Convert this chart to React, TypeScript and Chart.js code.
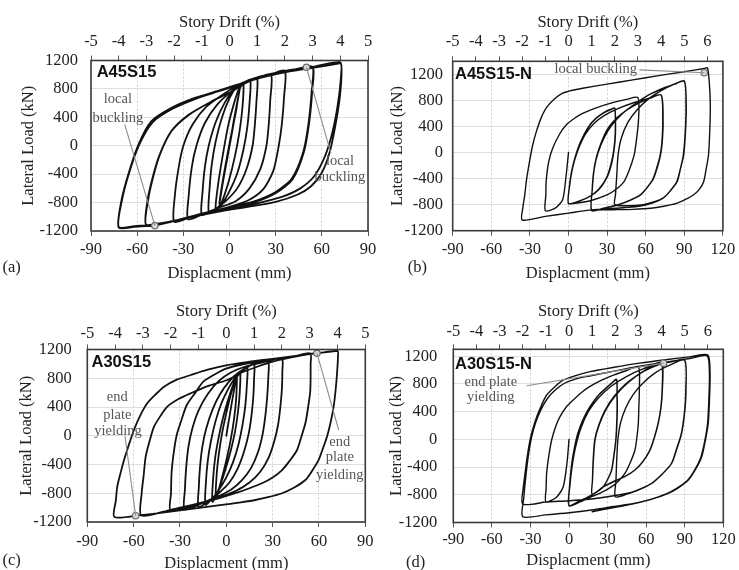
import React, { useEffect, useRef } from "react";
import { Chart, registerables } from "chart.js";

Chart.register(...registerables);

// ---------- axis tick values ----------
const DRIFT_TICKS_CYCLIC = [-5, -4, -3, -2, -1, 0, 1, 2, 3, 4, 5];
const DRIFT_TICKS_NEAR_FAULT = [-5, -4, -3, -2, -1, 0, 1, 2, 3, 4, 5, 6];
const DISP_TICKS_CYCLIC = [-90, -60, -30, 0, 30, 60, 90];
const DISP_TICKS_NEAR_FAULT = [-90, -60, -30, 0, 30, 60, 90, 120];
const LOAD_TICKS = [-1200, -800, -400, 0, 400, 800, 1200];
const MM_PER_DRIFT_PERCENT = 18;

// ---------- hysteresis data: [displacement mm, lateral load kN] ----------
const A45S15_PATH = [
  [0, 0], [3, 380], [6.6, 790],
  [4, 470], [0, -10], [-4, -480], [-6.6, -820],
  [-4.2, -470], [0, 30], [4.2, 480], [6.7, 800],
  [9, 880],
  [8.5, 560], [6.5, 200], [3.5, -150], [-0.5, -500], [-5, -790], [-9, -900],
  [-7.5, -560], [-4.5, -150], [-1, 270], [3, 600], [6.5, 820], [9, 880],
  [13.5, 925],
  [13, 600], [11.5, 250], [9, -60], [5, -390], [-1, -680], [-6, -850], [-9.5, -900], [-13.5, -935],
  [-13, -620], [-11.5, -260], [-9, 60], [-5, 390], [0, 670], [5, 840], [9, 890], [13.5, 925],
  [18, 955],
  [17.5, 620], [16.5, 300], [15, 0], [11, -330], [5, -600], [-3, -790], [-10, -900], [-18, -975],
  [-17.5, -650], [-16, -300], [-13.5, 0], [-9, 330], [-3, 610], [4, 820], [10, 900], [18, 955],
  [27, 1005],
  [26.5, 650], [25.5, 300], [24, 0], [20, -330], [13, -600], [4, -780], [-8, -880], [-18, -970], [-27, -1035],
  [-26.5, -700], [-24.5, -300], [-21.5, 0], [-16, 320], [-8, 580], [2, 780], [10, 900], [18, 960], [27, 1005],
  [36, 1055],
  [35.5, 700], [34, 300], [32, 0], [28.5, -350], [22, -610], [12, -770], [0, -860], [-15, -950], [-27, -1020], [-36, -1070],
  [-35.5, -700], [-33, -300], [-30, 0], [-24, 300], [-15, 550], [-3, 740], [8, 880], [20, 975], [36, 1055],
  [45, 1085], [54, 1112],
  [53.5, 800], [51.5, 340], [48, -80], [40.5, -460], [30, -650], [15, -790], [0, -865], [-20, -965], [-38, -1070], [-54, -1125],
  [-53.5, -800], [-50, -450], [-45.5, -130], [-38, 200], [-27, 430], [-12, 620], [1, 760], [10, 890], [25, 990], [40, 1060], [54, 1110],
  [53.8, 790], [51.8, 330], [48.3, -90], [41, -470], [30.5, -660], [15.5, -800], [0, -870], [-20, -968], [-38, -1068], [-54, -1118],
  [-53, -780], [-49.5, -430], [-45, -110], [-37.5, 210], [-26, 440], [-11, 630], [2, 770], [12, 900], [26, 995], [40, 1058], [54, 1108],
  [63, 1140], [72, 1175],
  [72.8, 1000], [71.5, 650], [68.5, 250], [65, -100], [60, -380], [53, -570], [44, -690], [30, -790], [12, -860], [-5, -920], [-20, -985], [-36, -1060], [-50, -1120], [-62, -1142], [-72, -1152],
  [-70.5, -800], [-66, -420], [-59.5, 0], [-51, 340], [-38, 530], [-23, 670], [-8, 770], [5, 860], [20, 970], [40, 1065], [55, 1115], [72, 1175],
  [72.5, 1000], [70.5, 600], [67, 200], [62, -150], [55, -430], [46, -600], [34, -720], [18, -810], [0, -885], [-20, -980], [-36, -1055], [-50, -1110], [-62, -1132], [-72, -1142],
  [-70, -780], [-65.5, -400], [-59, 0], [-50, 330], [-37, 520], [-22, 660], [-8, 760], [5, 850], [20, 955], [40, 1050], [55, 1100], [71.5, 1160],
];
const A45S15_MARKERS = [[-48.5, -1125], [50, 1105]];

const A45S15N_PATH = [
  [0, 0], [-2, -380], [-4.5, -720], [-10, -850], [-18, -893],
  [-17.6, -650], [-17.4, -450], [-15.5, -150], [-12.3, 65], [-7, 280], [-2, 420], [5, 530], [11, 600], [22, 690], [35, 770], [45, 815], [54, 841],
  [54.3, 470], [52.5, 150], [51, -40], [47, -280], [43, -450], [36, -580], [30, -650], [17, -740], [8, -770], [0, -780],
  [0.5, -560], [2, -330], [5, -80], [9, 150], [15, 380], [21, 520], [28, 620], [33, 665], [36, 680],
  [36.5, 300], [35.5, 50], [33.5, -170], [30, -380], [24, -560], [17, -670], [9, -740], [0, -780],
  [0.6, -540], [2.2, -310], [5.5, -60], [9.5, 170], [15.5, 390], [21.5, 525], [28, 615], [33, 660], [36, 675],
  [36.3, 290], [35.2, 40], [33, -180], [29.5, -390], [23.5, -565], [16.5, -675], [8.5, -745], [0, -785],
  [0.8, -520], [3, -250], [7, 20], [13, 280], [20, 450], [28, 570], [38, 670], [50, 760], [62, 830], [72, 883],
  [73.5, 473], [72.8, 150], [71.5, -38], [69, -230], [66, -400], [61, -540], [56, -650], [47, -740], [38, -806], [28, -850], [18, -893],
  [18.3, -600], [19.5, -300], [22, -50], [26, 180], [31, 380], [38, 540], [46, 660], [55, 760], [63, 830], [72, 880],
  [73.2, 470], [72.5, 140], [71.2, -45], [68.5, -240], [65.5, -410], [60.5, -550], [55.5, -655], [46.5, -745], [37.5, -810], [27.5, -855], [18, -890],
  [18.5, -560], [20, -250], [23, 0], [28, 240], [34, 430], [42, 600], [52, 750], [62, 880], [74, 990], [82, 1045], [90, 1098],
  [91.5, 729], [91, 350], [89.5, -38], [87, -250], [84.4, -448], [79, -590], [74, -690], [66, -760], [58, -800], [48, -815], [36, -800],
  [36.5, -650], [37.5, -350], [38.5, -40], [41, 220], [46, 460], [53, 650], [62, 820], [72, 950], [81, 1040], [90, 1090],
  [91.3, 720], [90.8, 340], [89.2, -45], [86.8, -260], [84, -455], [78.5, -600], [73.5, -700], [65, -775], [56, -820], [44, -845], [30, -865], [16, -885], [0, -930], [-18, -980], [-36, -1036],
  [-35.5, -850], [-34, -650], [-32.5, -400], [-30.3, -140], [-28, 100], [-25, 320], [-21.5, 520], [-17.4, 680], [-11, 820], [-4.5, 910], [3, 955], [11, 986], [30, 1050], [50, 1115], [70, 1180], [90, 1240], [105.5, 1290], [108, 1300],
  [109.5, 1050], [110.2, 729], [109.8, 350], [108.8, -38], [107, -250], [105, -448], [101.5, -570], [97, -652], [91, -720], [84, -780], [74, -825], [64, -856], [50, -872], [35, -878], [20, -882],
];
const A45S15N_MARKERS = [[105.5, 1225]];

const A30S15_PATH = [
  [0, 0], [3.5, 450], [6.75, 820],
  [6.4, 520], [5, 230], [2.8, -60], [-0.2, -360], [-3.5, -640], [-6.75, -880],
  [-6.3, -560], [-4.8, -250], [-2.5, 60], [0.5, 360], [3.5, 620], [6.75, 820],
  [9, 880],
  [8.7, 600], [7.5, 320], [5.5, 40], [2.5, -240], [-1, -500], [-4.5, -720], [-9, -920],
  [-8.6, -620], [-7.3, -320], [-5, -30], [-2, 260], [1.5, 520], [5, 740], [9, 880],
  [13.5, 950],
  [13.3, 700], [12.3, 420], [10.5, 150], [8, -110], [4.5, -360], [0, -580], [-5, -760], [-9, -870], [-13.5, -960],
  [-13.2, -650], [-12, -350], [-10, -80], [-7, 200], [-3, 460], [2, 680], [7, 840], [13.5, 950],
  [18, 1000],
  [18, 800], [17.5, 550], [16.3, 280], [14.5, 30], [11.5, -220], [7.5, -450], [2, -650], [-5, -800], [-11, -900], [-18, -990],
  [-17.8, -720], [-17, -430], [-15.5, -150], [-13, 100], [-9, 360], [-4, 580], [2, 760], [8, 880], [18, 1000],
  [27, 1040],
  [27.2, 820], [26.5, 550], [25.3, 280], [23.5, 20], [20.5, -230], [16, -450], [10, -620], [3, -750], [-6, -850], [-15, -930], [-27, -1030],
  [-26.8, -750], [-26, -450], [-24.5, -150], [-22, 100], [-18, 350], [-12, 580], [-5, 760], [3, 880], [12, 960], [27, 1040],
  [36, 1080],
  [36.3, 900], [36, 650], [35, 400], [33.5, 150], [31, -80], [27.5, -300], [22, -500], [15, -650], [6, -770], [-5, -860], [-18, -950], [-36, -1040],
  [-35.8, -800], [-35.4, -500], [-34, -230], [-32.1, 11], [-29, 220], [-25.6, 428], [-20, 600], [-14.9, 752], [-7, 860], [0.3, 938], [10, 990], [22, 1040], [36, 1080],
  [45, 1112], [54.4, 1145],
  [54.6, 1000], [54.4, 637], [53, 400], [51.2, 173], [48.5, -20], [45.8, -198], [41, -350], [36.1, -477], [30, -580], [23.1, -661], [15, -730], [5.8, -800], [-5, -870], [-20, -950], [-36, -1030], [-55, -1110],
  [-54.8, -800], [-53.5, -550], [-52.2, -291], [-49.5, -60], [-46.8, 126], [-42.5, 280], [-38.2, 404], [-31, 510], [-23, 591], [-12, 690], [0.6, 776], [10, 880], [20, 960], [30, 1030], [42, 1090], [54.4, 1140],
  [63, 1160], [72, 1180],
  [72.3, 1100], [71.7, 869], [70.8, 640], [69.5, 404], [67.5, 180], [65.2, -13], [62.5, -180], [59.8, -337], [55.5, -490], [51.2, -616], [44, -720], [36.1, -800], [27, -855], [18.8, -894], [8, -930], [-2.8, -963], [-20, -1010], [-40, -1065], [-56, -1105], [-72.5, -1130],
  [-71.5, -900], [-70.6, -709], [-68.5, -520], [-66.2, -337], [-63, -120], [-59.8, 80], [-56, 270], [-51.2, 451], [-46, 570], [-40.3, 683], [-32, 780], [-23, 845], [-12, 920], [0.6, 984], [15, 1030], [30, 1070], [45, 1110], [58, 1145], [72, 1180],
];
const A30S15_MARKERS = [[-58.7, -1112], [58.7, 1147]];

const A30S15N_PATH = [
  [0, 0], [-1.5, -330], [-4.5, -683], [-10, -840], [-18, -900],
  [-17.8, -700], [-17.4, -490], [-15.8, -250], [-13.5, -9], [-10.5, 180], [-7, 327], [-2, 470], [3.3, 568], [10, 680], [16, 760], [25, 850], [35, 930], [45, 995], [54, 1049],
  [54.7, 713], [54.3, 450], [53.9, 232], [52.8, 30], [51.3, -153], [47.5, -340], [43.5, -490], [38.5, -600], [33.2, -683], [25, -770], [17.6, -828], [9, -900], [0, -960],
  [0.3, -700], [1.3, -490], [2.5, -300], [3.9, -153], [6, 30], [8.6, 183], [12, 330], [16.3, 471], [22, 620], [28, 730], [33, 810], [37, 867],
  [37.4, 650], [37.6, 472], [37.2, 200], [36.5, -9], [35, -230], [33.2, -442], [30, -580], [26.7, -683], [22, -750], [17.6, -803], [9, -880], [0, -955],
  [0.4, -690], [1.5, -470], [2.8, -280], [4.2, -130], [6.3, 50], [9, 200], [12.5, 345], [16.8, 485], [22.5, 630], [28.5, 735], [33.3, 812], [37, 862],
  [37.3, 640], [37.4, 460], [37, 190], [36.3, -20], [34.8, -240], [33, -450], [29.7, -590], [26.4, -690], [21.7, -757], [17.3, -808], [8.7, -885], [0, -958],
  [0.8, -650], [2.5, -380], [5, -120], [9, 150], [15, 400], [23, 600], [33, 770], [45, 910], [58, 1020], [72, 1107],
  [72.6, 713], [71.5, 450], [69.4, 232], [66.5, 30], [63, -155], [57.5, -320], [51.3, -442], [44, -530], [37.1, -587], [27, -680], [18, -790],
  [18.2, -600], [18.8, -300], [20, -9], [23, 200], [28, 420], [35, 620], [44, 800], [55, 950], [64, 1050], [72, 1105],
  [72.4, 700], [71.3, 440], [69.2, 225], [66.3, 25], [62.7, -160], [57.2, -325], [51, -447], [43.7, -535], [36.8, -592], [26.7, -685], [18, -795],
  [18.3, -580], [19, -290], [20.3, 0], [23.5, 210], [28.7, 430], [36, 630], [46, 820], [58, 980], [70, 1080], [80, 1120], [90, 1146],
  [91, 713], [90, 400], [87.6, 88], [84, -130], [79.9, -345], [72.5, -500], [64.3, -634], [55, -720], [45, -790], [36, -830],
  [36.5, -600], [37.1, -300], [38, -9], [40, 232], [44, 450], [50, 650], [58, 820], [67, 960], [77, 1060], [90, 1140],
  [90.8, 700], [89.8, 390], [87.3, 80], [83.6, -140], [79.5, -355], [72, -510], [64, -640], [52, -745], [38.3, -803], [17.6, -860], [0, -885], [-18, -905], [-36, -935],
  [-35.6, -700], [-34.2, -490], [-32.5, -250], [-30.3, -9], [-28, 160], [-25.1, 327], [-21.5, 490], [-17.4, 640], [-11, 760], [-4.4, 857], [5, 920], [16.3, 977], [35, 1040], [55, 1100], [75, 1150], [95, 1195], [108, 1218],
  [109.7, 954], [109.3, 600], [108.3, 232], [106, -20], [103.2, -250], [98.5, -430], [92.8, -587], [85, -700], [77.2, -779], [65, -860], [51.3, -923], [35, -970], [17.6, -1020], [0, -1060], [-18, -1090], [-36, -1116],
  [-35.2, -850], [-33.5, -520], [-31.5, -220], [-29, 40], [-25.8, 250], [-21.8, 430], [-16.8, 590], [-10.5, 715], [-3.5, 810], [5, 870], [16, 915], [35, 985], [55, 1055], [75, 1115], [95, 1170], [107.5, 1205],
  [109.2, 950], [108.8, 600], [107.8, 232], [105.5, -30], [102.5, -260], [97.8, -440], [92, -595], [84, -705], [76, -785], [64, -865], [50, -930], [35, -985], [18, -1044],
];
const A30S15N_MARKERS = [[73.5, 1100]];

// ---------- presentation ----------
const SERIF = "'Liberation Serif', 'Times New Roman', Times, serif";
const SANS = "'Liberation Sans', Arial, Helvetica, sans-serif";
const FS = 16.5;

type Note = { t: string; x: number; y: number };
type Panel = any;

const PANELS: Panel[] = [
  {
    key: "a", name: "A45S15", path: A45S15_PATH, markers: A45S15_MARKERS,
    xMin: -90, xMax: 90, yMin: -1200, yMax: 1200, xTicks: DISP_TICKS_CYCLIC, driftTicks: DRIFT_TICKS_CYCLIC,
    canvas: { left: 0, top: 0, width: 390, height: 285 }, plot: { left: 91, top: 60.5, right: 368, bottom: 231 },
    yTitlePad: 18.4, topTitlePad: 12.4, bottomTitlePad: 1.1, topTickPad: 3.9, bottomTickPad: 3.4, yTickPad: 13,
    lw: 1.8, nameDx: 5.7, nameDy: 12.2, letter: [11.7, 266.7],
    notes: [
      { t: "local", x: -72.5, y: 650 }, { t: "buckling", x: -72.5, y: 386 },
      { t: "local", x: 71.8, y: -224 }, { t: "buckling", x: 71.8, y: -436 },
    ],
    leaders: [[-68.1, 300, -48.5, -1125], [65.9, -106, 50, 1105]],
  },
  {
    key: "b", name: "A45S15-N", path: A45S15N_PATH, markers: A45S15N_MARKERS,
    xMin: -90, xMax: 120, yMin: -1200, yMax: 1400, xTicks: DISP_TICKS_NEAR_FAULT, driftTicks: DRIFT_TICKS_NEAR_FAULT,
    canvas: { left: 375, top: 0, width: 364, height: 285 }, plot: { left: 452.7, top: 61.3, right: 725, bottom: 230.7 },
    yTitlePad: 12.4, topTitlePad: 12.4, bottomTitlePad: 1.1, topTickPad: 4.7, bottomTickPad: 3.7, yTickPad: 9.7,
    lw: 1.4, nameDx: 2.3, nameDy: 12.7, letter: [417.3, 266.7],
    notes: [{ t: "local buckling", x: 21.1, y: 1277 }],
    leaders: [[55.1, 1268, 105.5, 1225]],
  },
  {
    key: "c", name: "A30S15", path: A30S15_PATH, markers: A30S15_MARKERS,
    xMin: -90, xMax: 90, yMin: -1200, yMax: 1200, xTicks: DISP_TICKS_CYCLIC, driftTicks: DRIFT_TICKS_CYCLIC,
    canvas: { left: 0, top: 285, width: 390, height: 285 }, plot: { left: 87.3, top: 349.5, right: 365.3, bottom: 522 },
    yTitlePad: 16.8, topTitlePad: 16.8, bottomTitlePad: -3.2, topTickPad: 1.3, bottomTickPad: 4.8, yTickPad: 15.6,
    lw: 1.8, nameDx: 4.2, nameDy: 12.8, letter: [11.7, 560],
    notes: [
      { t: "end", x: -70.6, y: 543 }, { t: "plate", x: -70.6, y: 289 }, { t: "yielding", x: -70.1, y: 70 },
      { t: "end", x: 73.5, y: -83 }, { t: "plate", x: 73.5, y: -300 }, { t: "yielding", x: 73.5, y: -546 },
    ],
    leaders: [[-65.6, -4, -58.7, -1112], [72.8, 80, 58.7, 1147]],
  },
  {
    key: "d", name: "A30S15-N", path: A30S15N_PATH, markers: A30S15N_MARKERS,
    xMin: -90, xMax: 120, yMin: -1200, yMax: 1300, xTicks: DISP_TICKS_NEAR_FAULT, driftTicks: DRIFT_TICKS_NEAR_FAULT,
    canvas: { left: 375, top: 285, width: 364, height: 285 }, plot: { left: 453.3, top: 349.3, right: 723.3, bottom: 522.5 },
    yTitlePad: 11.4, topTitlePad: 16.8, bottomTitlePad: -0.9, topTickPad: 2.7, bottomTickPad: 2.6, yTickPad: 16,
    lw: 1.4, nameDx: 1.7, nameDy: 14.7, letter: [415.7, 561.7],
    notes: [{ t: "end plate", x: -60.8, y: 832 }, { t: "yielding", x: -60.8, y: 616 }],
    leaders: [[-32.9, 775, 73.5, 1100]],
  },
];

function buildConfig(p: Panel): any {
  const c = p.canvas;
  const yAxisW = p.plot.left - c.left;
  const topH = p.plot.top - c.top;
  const bottomH = c.top + c.height - p.plot.bottom;
  const padRight = c.left + c.width - p.plot.right;
  const font = { family: SERIF, size: FS };

  const decor = {
    id: "decor_" + p.key,
    afterDatasetsDraw(chart: any) {
      const { ctx, chartArea: a, scales } = chart;
      const xs = scales.x;
      const ys = scales.y;
      ctx.save();
      ctx.strokeStyle = "#8c8c8c";
      ctx.lineWidth = 1.1;
      for (const l of p.leaders) {
        ctx.beginPath();
        ctx.moveTo(xs.getPixelForValue(l[0]), ys.getPixelForValue(l[1]));
        ctx.lineTo(xs.getPixelForValue(l[2]), ys.getPixelForValue(l[3]));
        ctx.stroke();
      }
      ctx.fillStyle = "#555";
      ctx.font = `14.5px ${SERIF}`;
      ctx.textAlign = "center";
      ctx.textBaseline = "middle";
      for (const n of p.notes as Note[]) {
        ctx.fillText(n.t, xs.getPixelForValue(n.x), ys.getPixelForValue(n.y));
      }
      ctx.fillStyle = "#111";
      ctx.font = `bold ${FS}px ${SANS}`;
      ctx.textAlign = "left";
      ctx.fillText(p.name, a.left + p.nameDx, a.top + p.nameDy);
      ctx.strokeStyle = "#3a3a3a";
      ctx.lineWidth = 1.6;
      ctx.strokeRect(a.left, a.top, a.right - a.left, a.bottom - a.top);
      ctx.restore();
    },
  };

  return {
    type: "line",
    data: {
      datasets: [
        {
          data: p.markers.map(([x, y]: number[]) => ({ x, y })),
          showLine: false,
          pointRadius: 3.2,
          pointBackgroundColor: "#d8d8d8",
          pointBorderColor: "#6a6a6a",
          pointBorderWidth: 1.2,
          order: 0,
        },
        {
          data: p.path.map(([x, y]: number[]) => ({ x, y })),
          borderColor: "#111",
          borderWidth: p.lw,
          pointRadius: 0,
          tension: 0.25,
          fill: false,
          borderJoinStyle: "round",
          borderCapStyle: "round",
          order: 1,
        },
      ],
    },
    options: {
      animation: false,
      responsive: false,
      maintainAspectRatio: false,
      events: [],
      layout: { padding: { left: 0, top: 0, right: padRight, bottom: 0 } },
      plugins: { legend: { display: false }, tooltip: { enabled: false }, title: { display: false } },
      scales: {
        x: {
          type: "linear", position: "bottom", min: p.xMin, max: p.xMax,
          afterBuildTicks: (s: any) => { s.ticks = p.xTicks.map((v: number) => ({ value: v })); },
          afterFit: (s: any) => { s.height = bottomH; },
          ticks: { color: "#222", font, padding: p.bottomTickPad, maxRotation: 0, autoSkip: false, callback: (v: any) => String(v) },
          grid: { color: "#cfcfcf", lineWidth: 1, drawTicks: true, tickLength: 5, tickColor: "#555", tickWidth: 1 },
          border: { display: false, dash: [2, 2] },
          title: { display: true, text: "Displacment (mm)", color: "#222", font, padding: { top: 0, bottom: p.bottomTitlePad } },
        },
        x2: {
          type: "linear", position: "top",
          min: p.xMin / MM_PER_DRIFT_PERCENT, max: p.xMax / MM_PER_DRIFT_PERCENT,
          afterBuildTicks: (s: any) => { s.ticks = p.driftTicks.map((v: number) => ({ value: v })); },
          afterFit: (s: any) => { s.height = topH; },
          ticks: { color: "#222", font, padding: p.topTickPad, maxRotation: 0, autoSkip: false, callback: (v: any) => String(v) },
          grid: { drawOnChartArea: false, drawTicks: true, tickLength: 5, tickColor: "#555", tickWidth: 1 },
          border: { display: false },
          title: { display: true, text: "Story Drift (%)", color: "#222", font, padding: { top: p.topTitlePad, bottom: 0 } },
        },
        y: {
          type: "linear", position: "left", min: p.yMin, max: p.yMax,
          afterBuildTicks: (s: any) => { s.ticks = LOAD_TICKS.map((v) => ({ value: v })); },
          afterFit: (s: any) => { s.width = yAxisW; },
          ticks: { color: "#222", font, padding: p.yTickPad, autoSkip: false, callback: (v: any) => String(v) },
          grid: { color: "#dedede", lineWidth: 1, drawTicks: false },
          border: { display: false },
          title: { display: true, text: "Lateral Load (kN)", color: "#222", font, padding: { top: p.yTitlePad, bottom: 0 } },
        },
      },
    },
    plugins: [decor],
  };
}

function PanelChart({ cfg }: { cfg: Panel }) {
  const ref = useRef<HTMLCanvasElement | null>(null);
  useEffect(() => {
    if (!ref.current) return;
    const chart = new Chart(ref.current, buildConfig(cfg));
    return () => chart.destroy();
  }, [cfg]);
  const c = cfg.canvas;
  return (
    <canvas
      ref={ref}
      width={c.width}
      height={c.height}
      style={{ position: "absolute", left: c.left, top: c.top, width: c.width, height: c.height }}
    />
  );
}

export default function App() {
  return (
    <div style={{ position: "absolute", left: 0, top: 0, width: 739, height: 570, background: "#fff", overflow: "hidden" }}>
      {PANELS.map((p) => (
        <PanelChart key={p.key} cfg={p} />
      ))}
      {PANELS.map((p) => (
        <div
          key={"lbl" + p.key}
          style={{
            position: "absolute", left: p.letter[0], top: p.letter[1], transform: "translate(-50%, -50%)",
            fontFamily: SERIF, fontSize: FS, lineHeight: 1, color: "#222", whiteSpace: "nowrap",
          }}
        >
          ({p.key})
        </div>
      ))}
    </div>
  );
}
